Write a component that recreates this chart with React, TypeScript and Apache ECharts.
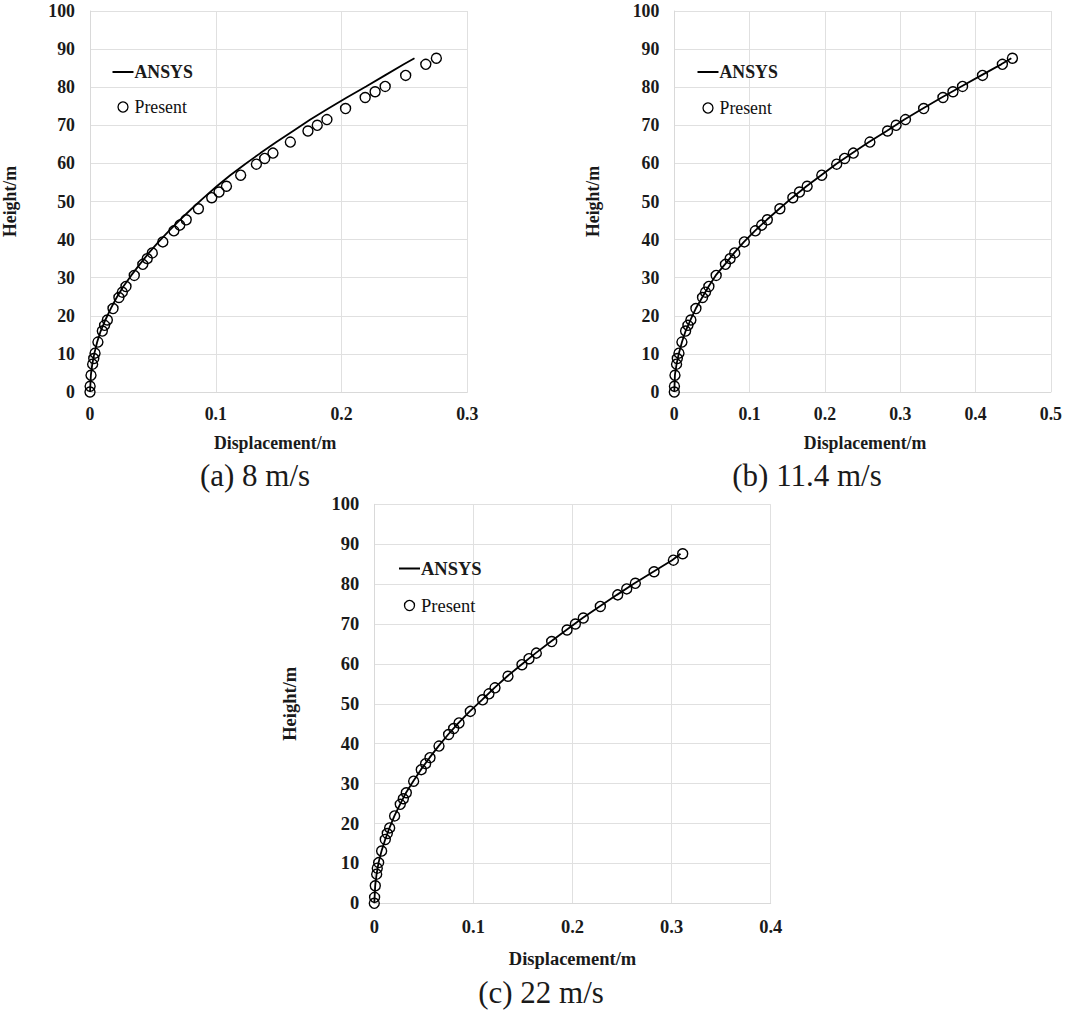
import { useEffect, useRef } from "react";
import * as echarts from "echarts";

const FONT = '"Liberation Serif", serif';

// heights of the markers, shared by all three panels
const presentHeights = [
  0, 1.5, 4.4, 7.3, 8.8, 10.2, 13.1, 16, 17.5, 18.9, 21.9, 24.8, 26.2, 27.7, 30.6, 33.5, 35, 36.5, 39.4, 42.3, 43.8,
  45.2, 48.1, 51, 52.5, 54, 56.9, 59.8, 61.3, 62.7, 65.6, 68.5, 70, 71.5, 74.4, 77.3, 78.8, 80.2, 83.1, 86, 87.6,
];
const ansysHeights = [
  0, 4.4, 7.3, 10.2, 13.1, 16, 18.9, 21.9, 24.8, 27.7, 30.6, 33.5, 36.5, 39.4, 42.3, 45.2, 48.1, 51, 54, 56.9, 59.8,
  62.7, 65.6, 68.5, 71.5, 74.4, 77.3, 80.2, 83.1, 86, 87.6,
];

const presentA = [
  0, 0.0001, 0.0008, 0.0021, 0.003, 0.004, 0.0063, 0.0098, 0.0116, 0.0138, 0.0183, 0.023, 0.0257, 0.0286, 0.0352,
  0.042, 0.0455, 0.0495, 0.0579, 0.0667, 0.0714, 0.0765, 0.0862, 0.0968, 0.1026, 0.1085, 0.1198, 0.1323, 0.1389,
  0.1455, 0.1593, 0.1733, 0.1807, 0.1884, 0.2032, 0.2188, 0.2267, 0.2347, 0.251, 0.267, 0.2754,
];
const ansysA = [
  0, 0.0007, 0.0018, 0.0035, 0.0057, 0.0085, 0.0122, 0.0165, 0.0212, 0.0265, 0.0328, 0.0395, 0.0468, 0.0545, 0.0628,
  0.0715, 0.0808, 0.0905, 0.1008, 0.1115, 0.1232, 0.1355, 0.1482, 0.1615, 0.1752, 0.1895, 0.2042, 0.2195, 0.2345,
  0.2495, 0.258,
];

const presentB = [
  0, 0.0002, 0.0009, 0.003, 0.004, 0.0062, 0.0101, 0.015, 0.0181, 0.022, 0.0287, 0.0375, 0.0414, 0.0459, 0.0556,
  0.0679, 0.0741, 0.0802, 0.093, 0.1076, 0.116, 0.1235, 0.1402, 0.1574, 0.1662, 0.1764, 0.1958, 0.2156, 0.2262,
  0.2377, 0.2597, 0.2831, 0.2945, 0.3069, 0.3311, 0.3567, 0.37, 0.3827, 0.4092, 0.4356, 0.4489,
];
const ansysB = [
  0, 0.0008, 0.003, 0.0061, 0.0102, 0.015, 0.0215, 0.0285, 0.037, 0.0455, 0.055, 0.0672, 0.0795, 0.0925, 0.107,
  0.1228, 0.1395, 0.1565, 0.1755, 0.195, 0.2145, 0.2365, 0.2585, 0.282, 0.3055, 0.33, 0.355, 0.381, 0.4075, 0.434,
  0.4475,
];

const presentC = [
  0, 0.0003, 0.001, 0.0024, 0.003, 0.0044, 0.0074, 0.0111, 0.0131, 0.0155, 0.0205, 0.0262, 0.0293, 0.0323, 0.0397,
  0.0474, 0.0518, 0.0562, 0.0653, 0.075, 0.0801, 0.0855, 0.0969, 0.1093, 0.1157, 0.1218, 0.1349, 0.149, 0.1561,
  0.1635, 0.179, 0.1945, 0.2029, 0.2109, 0.2281, 0.2456, 0.2547, 0.2634, 0.2823, 0.3018, 0.3112,
];
const ansysC = [
  0, 0.0009, 0.0023, 0.0043, 0.0073, 0.011, 0.0153, 0.0203, 0.026, 0.032, 0.0393, 0.047, 0.0558, 0.0648, 0.0745,
  0.085, 0.0963, 0.1087, 0.1212, 0.1342, 0.1483, 0.1628, 0.1782, 0.1938, 0.2102, 0.2273, 0.2448, 0.2626, 0.2815,
  0.3005, 0.309,
];

const captions = ["(a) 8 m/s", "(b) 11.4 m/s", "(c) 22 m/s"];
const xMaxes = [0.3, 0.5, 0.4];

const pairs = (xs: number[], ys: number[]) => xs.map((x, i) => [x, ys[i]]);

const App = () => {
  const chartRef = useRef<HTMLDivElement>(null);

  useEffect(() => {
    if (!chartRef.current) return;
    const chart = echarts.init(chartRef.current, null, { renderer: "svg" });

    // pixel boxes of the plot areas
    const panels = [
      { left: 89.3, top: 11, width: 378, height: 381, font: 17.8, nameX: 42, namePad: [0, 7, 0, 0], nameY: 71, tick: 13, lx: 111.5, ly: 63, gap: 17, cx: 255, cy: 460 },
      { left: 674.3, top: 11, width: 378, height: 381, font: 17.8, nameX: 42, namePad: [0, 0, 0, 5], nameY: 72, tick: 13, lx: 696.5, ly: 63, gap: 18, cx: 807, cy: 460 },
      { left: 374.3, top: 504.3, width: 396.4, height: 399, font: 18.5, nameX: 46, namePad: [0, 0, 0, 0], nameY: 75, tick: 14, lx: 398, ly: 559, gap: 18, cx: 541, cy: 977 },
    ];
    const ansys = [ansysA, ansysB, ansysC];
    const present = [presentA, presentB, presentC];

    const axisText = (p: (typeof panels)[number]) => ({
      fontFamily: FONT,
      fontWeight: "bold" as const,
      fontSize: p.font,
      color: "#1a1a1a",
    });

    const option: any = {
      animation: false,
      backgroundColor: "#fff",
      title: panels.map((p, i) => ({
        text: captions[i],
        left: p.cx,
        top: p.cy,
        textAlign: "center",
        padding: 0,
        textStyle: { fontFamily: FONT, fontWeight: "normal", fontSize: 31, color: "#1a1a1a" },
      })),
      grid: panels.map((p) => ({ left: p.left, top: p.top, width: p.width, height: p.height, containLabel: false })),
      xAxis: panels.map((p, i) => ({
        type: "value",
        gridIndex: i,
        min: 0,
        max: xMaxes[i],
        interval: 0.1,
        name: "Displacement/m",
        nameLocation: "middle",
        nameGap: p.nameX,
        nameTextStyle: { ...axisText(p), padding: p.namePad },
        axisLine: { lineStyle: { color: "#d9d9d9", width: 1 } },
        axisTick: { show: false },
        axisLabel: { ...axisText(p), margin: p.tick, formatter: (v: number) => (v === 0 ? "0" : v.toFixed(1)) },
        splitLine: { show: true, lineStyle: { color: "#e0e0e0", width: 1 } },
      })),
      yAxis: panels.map((p, i) => ({
        type: "value",
        gridIndex: i,
        min: 0,
        max: 100,
        interval: 10,
        name: "Height/m",
        nameLocation: "middle",
        nameGap: p.nameY,
        nameTextStyle: axisText(p),
        axisLine: { show: true, lineStyle: { color: "#d9d9d9", width: 1 } },
        axisTick: { show: false },
        axisLabel: { ...axisText(p), margin: 15 },
        splitLine: { show: true, lineStyle: { color: "#e0e0e0", width: 1 } },
      })),
      legend: panels.map((p) => ({
        left: p.lx,
        top: p.ly,
        orient: "vertical",
        padding: 0,
        itemWidth: 21,
        itemHeight: 10,
        itemGap: p.gap,
        selectedMode: false,
        data: [
          {
            name: "ANSYS",
            itemStyle: { color: "transparent", borderWidth: 0 },
            textStyle: { fontFamily: FONT, fontWeight: "bold", fontSize: p.font, color: "#1a1a1a", padding: [0, 0, 0, -4] },
          },
          {
            name: "Present",
            itemStyle: { color: "transparent", borderColor: "#000", borderWidth: 1.3 },
            textStyle: { fontFamily: FONT, fontWeight: "normal", fontSize: p.font, color: "#111", padding: [0, 0, 0, -4] },
          },
        ],
      })),
      series: panels.flatMap((_, i) => [
        {
          name: "ANSYS",
          type: "line",
          xAxisIndex: i,
          yAxisIndex: i,
          data: pairs(ansys[i], ansysHeights),
          showSymbol: false,
          symbol: "none",
          smooth: false,
          clip: false,
          lineStyle: { color: "#000", width: 1.8 },
          itemStyle: { color: "#000" },
        },
        {
          name: "Present",
          type: "scatter",
          xAxisIndex: i,
          yAxisIndex: i,
          data: pairs(present[i], presentHeights),
          symbol: "circle",
          symbolSize: 10,
          clip: false,
          itemStyle: { color: "transparent", borderColor: "#000", borderWidth: 1.4, opacity: 1 },
        },
      ]),
    };

    chart.setOption(option);

    return () => {
      chart.dispose();
    };
  }, []);

  return <div ref={chartRef} style={{ position: "fixed", left: 0, top: 0, width: 1065, height: 1011 }} />;
};

export default App;
